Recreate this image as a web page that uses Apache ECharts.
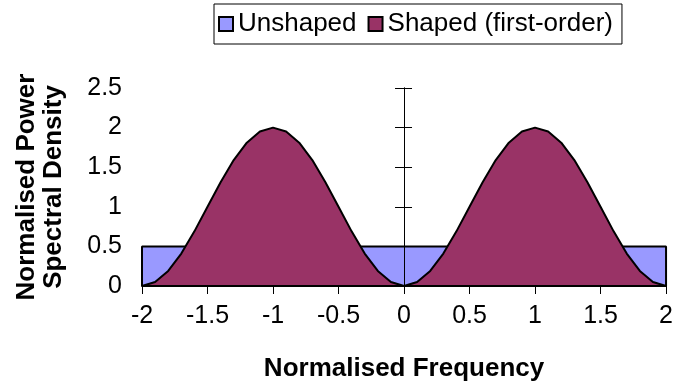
<!DOCTYPE html>
<html>
<head>
<meta charset="utf-8">
<script src="https://cdn.jsdelivr.net/npm/echarts@6/dist/echarts.min.js"></script>
<style>html,body{margin:0;padding:0;background:#fff}#c{width:676px;height:390px}</style>
</head>
<body>
<div id="c"></div>
<script>
// Data
const seriesNames = ['Unshaped', 'Shaped (first-order)'];
const unshapedFreq = [-2, -2, 2, 2];
const unshapedPSD  = [0, 0.5, 0.5, 0];
const shapedFreq = [-2, -1.9, -1.8, -1.7, -1.6, -1.5, -1.4, -1.3, -1.2, -1.1, -1,
  -0.9, -0.8, -0.7, -0.6, -0.5, -0.4, -0.3, -0.2, -0.1, 0,
  0.1, 0.2, 0.3, 0.4, 0.5, 0.6, 0.7, 0.8, 0.9, 1,
  1.1, 1.2, 1.3, 1.4, 1.5, 1.6, 1.7, 1.8, 1.9, 2];
const shapedPSD = [0, 0.05, 0.19, 0.41, 0.69, 1, 1.31, 1.59, 1.81, 1.95, 2,
  1.95, 1.81, 1.59, 1.31, 1, 0.69, 0.41, 0.19, 0.05, 0,
  0.05, 0.19, 0.41, 0.69, 1, 1.31, 1.59, 1.81, 1.95, 2,
  1.95, 1.81, 1.59, 1.31, 1, 0.69, 0.41, 0.19, 0.05, 0];
const xTicks = { min: -2, max: 2, interval: 0.5 };
const yTicks = { min: 0, max: 2.5, interval: 0.5 };

const font = '"Liberation Sans", Arial, sans-serif';
const chart = echarts.init(document.getElementById('c'), null, { renderer: 'canvas' });
const zip = (a, b) => a.map((v, i) => [v, b[i]]);

const yBase = { type: 'value', min: yTicks.min, max: yTicks.max, interval: yTicks.interval, splitLine: { show: false } };

chart.setOption({
  animation: false,
  textStyle: { fontFamily: font },
  legend: {
    data: seriesNames,
    left: 214, top: 4,
    padding: [6, 9, 6, 4],
    itemGap: 11,
    itemWidth: 14, itemHeight: 14,
    icon: 'rect',
    itemStyle: { borderColor: '#000', borderWidth: 2 },
    borderColor: '#000', borderWidth: 1,
    textStyle: { fontSize: 26, color: '#000', fontFamily: font, lineHeight: 28 }
  },
  grid: { left: 142, right: 6, top: 88, bottom: 104, containLabel: false },
  xAxis: {
    type: 'value', min: xTicks.min, max: xTicks.max, interval: xTicks.interval,
    name: 'Normalised Frequency', nameLocation: 'middle', nameGap: 70,
    nameTextStyle: { fontSize: 26, fontWeight: 'bold', color: '#000', fontFamily: font },
    axisLine: { onZero: false, lineStyle: { color: '#000', width: 2 } },
    axisTick: { show: true, length: 8, lineStyle: { color: '#000', width: 1 } },
    axisLabel: { fontSize: 25, color: '#000', margin: 18, fontFamily: font },
    splitLine: { show: false },
    z: 10
  },
  yAxis: [
    Object.assign({}, yBase, {
      position: 'left',
      name: 'Normalised Power\nSpectral Density', nameLocation: 'middle', nameGap: 75,
      nameTextStyle: { fontSize: 26, fontWeight: 'bold', color: '#000', lineHeight: 27, fontFamily: font },
      axisLine: { show: false, onZero: false }, axisTick: { show: false },
      axisLabel: { fontSize: 25, color: '#000', margin: 20, fontFamily: font }
    }),
    Object.assign({}, yBase, {
      position: 'left',
      axisLine: { show: true, onZero: true, onZeroAxisIndex: 0, lineStyle: { color: '#000', width: 1 } },
      axisTick: { show: true, inside: true, length: 8, lineStyle: { color: '#000', width: 1 } },
      axisLabel: { show: false }, z: 10
    }),
    Object.assign({}, yBase, {
      position: 'left',
      axisLine: { show: true, onZero: true, onZeroAxisIndex: 0, lineStyle: { color: '#000', width: 1 } },
      axisTick: { show: true, inside: false, length: 9, lineStyle: { color: '#000', width: 1 } },
      axisLabel: { show: false }, z: 10
    })
  ],
  series: [
    {
      name: seriesNames[0], type: 'line', yAxisIndex: 1,
      data: zip(unshapedFreq, unshapedPSD),
      symbol: 'none', lineStyle: { color: '#000', width: 2 },
      itemStyle: { color: '#9999FF', borderColor: '#000', borderWidth: 2 },
      areaStyle: { color: '#9999FF', opacity: 1 }, z: 2
    },
    {
      name: seriesNames[1], type: 'line', yAxisIndex: 2,
      data: zip(shapedFreq, shapedPSD),
      symbol: 'none', lineStyle: { color: '#000', width: 2 },
      itemStyle: { color: '#993366', borderColor: '#000', borderWidth: 2 },
      areaStyle: { color: '#993366', opacity: 1 }, z: 3
    }
  ]
});
</script>
</body>
</html>
